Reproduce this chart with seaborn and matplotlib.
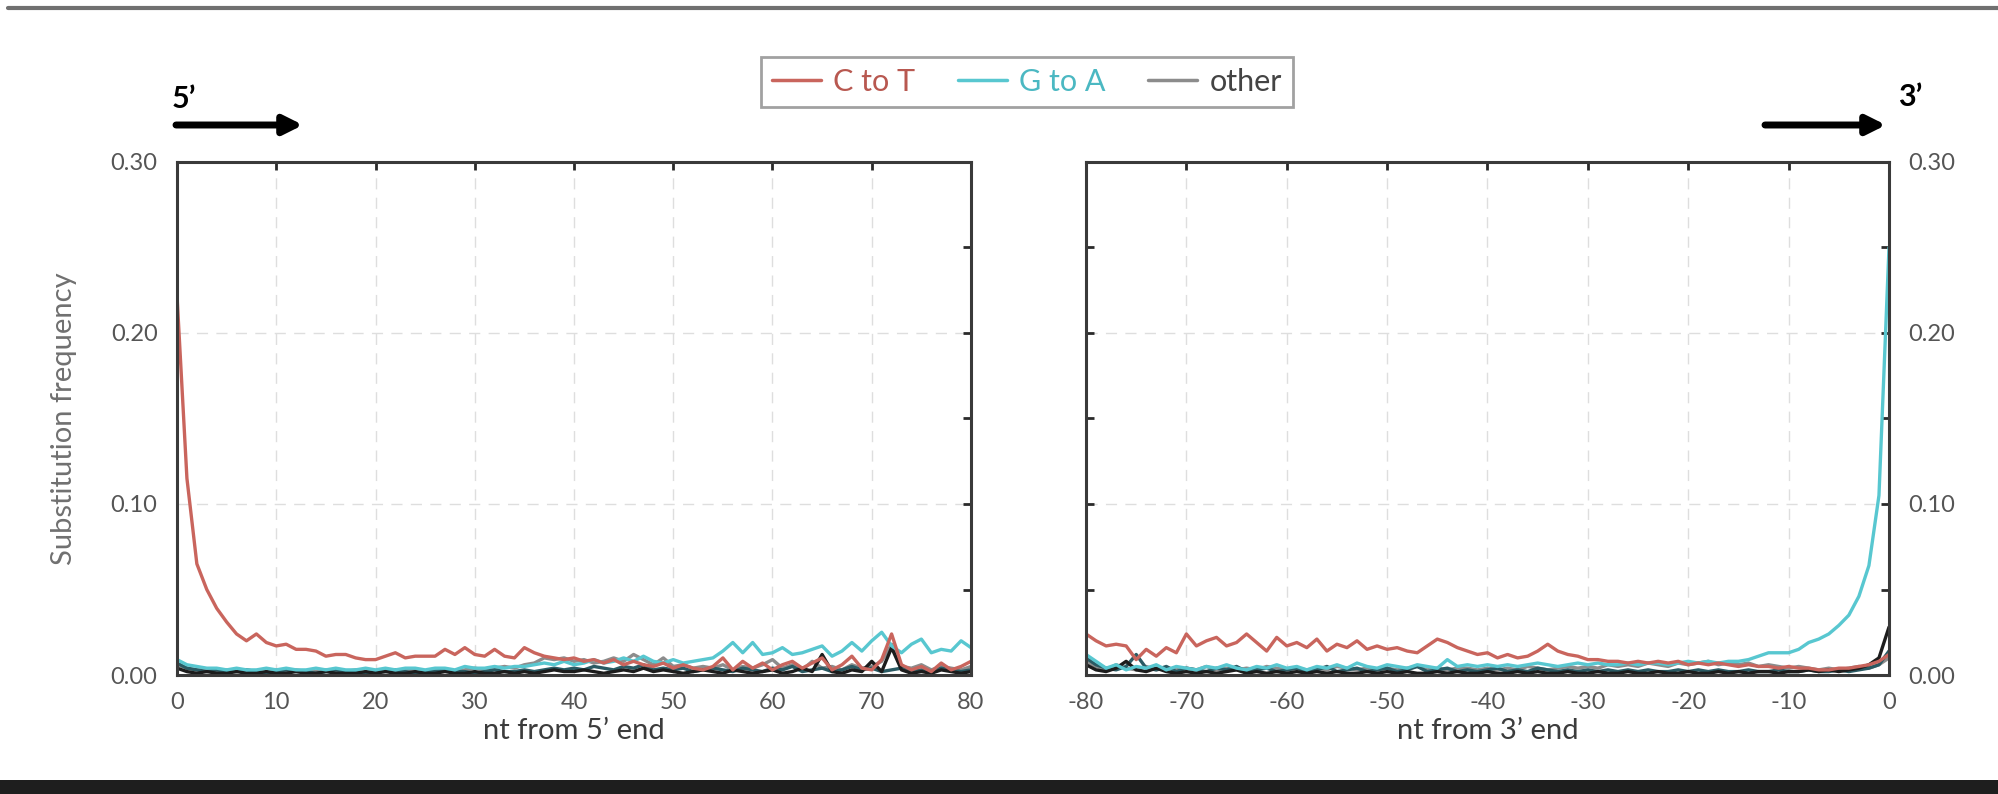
import numpy as np
import pandas as pd
import matplotlib
matplotlib.use('Agg')
import matplotlib.pyplot as plt
import seaborn as sns
from matplotlib.lines import Line2D
from matplotlib.patches import Rectangle, FancyArrowPatch
from matplotlib.ticker import MultipleLocator, FormatStrFormatter

# positions
pos_5 = list(range(0, 81))
pos_3 = list(range(-80, 1))

# 5' end panel
c2t_5 = [0.222, 0.115, 0.065, 0.050, 0.039, 0.031, 0.024, 0.020, 0.024, 0.019,
         0.017, 0.018, 0.015, 0.015, 0.014, 0.011, 0.012, 0.012, 0.010, 0.009,
         0.009, 0.011, 0.013, 0.010, 0.011, 0.011, 0.011, 0.015, 0.012, 0.016,
         0.012, 0.011, 0.015, 0.011, 0.010, 0.016, 0.013, 0.011, 0.010, 0.009,
         0.010, 0.008, 0.009, 0.007, 0.009, 0.006, 0.008, 0.006, 0.005, 0.007,
         0.004, 0.006, 0.004, 0.003, 0.005, 0.010, 0.003, 0.008, 0.004, 0.007,
         0.003, 0.006, 0.008, 0.004, 0.007, 0.010, 0.003, 0.006, 0.011, 0.004,
         0.003, 0.009, 0.024, 0.006, 0.003, 0.005, 0.002, 0.007, 0.003, 0.005,
         0.008]
g2a_5 = [0.009, 0.006, 0.005, 0.004, 0.004, 0.003, 0.004, 0.003, 0.003, 0.004,
         0.003, 0.004, 0.003, 0.003, 0.004, 0.003, 0.004, 0.003, 0.003, 0.004,
         0.003, 0.004, 0.003, 0.004, 0.004, 0.003, 0.004, 0.004, 0.003, 0.005,
         0.004, 0.004, 0.005, 0.004, 0.005, 0.005, 0.006, 0.007, 0.006, 0.008,
         0.006, 0.007, 0.009, 0.007, 0.008, 0.010, 0.008, 0.011, 0.008, 0.007,
         0.009, 0.007, 0.008, 0.009, 0.010, 0.014, 0.019, 0.013, 0.019, 0.012,
         0.013, 0.016, 0.012, 0.013, 0.015, 0.017, 0.011, 0.014, 0.019, 0.014,
         0.020, 0.025, 0.017, 0.013, 0.018, 0.021, 0.013, 0.015, 0.014, 0.020,
         0.016]
grey_5 = [0.006, 0.004, 0.003, 0.003, 0.002, 0.003, 0.002, 0.003, 0.002, 0.002,
          0.003, 0.002, 0.003, 0.002, 0.002, 0.003, 0.002, 0.002, 0.003, 0.002,
          0.002, 0.003, 0.002, 0.003, 0.003, 0.002, 0.003, 0.003, 0.002, 0.003,
          0.004, 0.003, 0.004, 0.005, 0.004, 0.006, 0.007, 0.010, 0.009, 0.010,
          0.008, 0.009, 0.007, 0.008, 0.010, 0.008, 0.012, 0.009, 0.006, 0.010,
          0.005, 0.006, 0.004, 0.005, 0.004, 0.006, 0.003, 0.005, 0.004, 0.006,
          0.009, 0.004, 0.006, 0.003, 0.008, 0.004, 0.005, 0.003, 0.006, 0.004,
          0.005, 0.008, 0.018, 0.005, 0.004, 0.006, 0.003, 0.005, 0.004, 0.003,
          0.005]
teal_5 = [0.007, 0.004, 0.003, 0.002, 0.003, 0.002, 0.002, 0.003, 0.002, 0.001,
          0.002, 0.003, 0.002, 0.002, 0.001, 0.002, 0.003, 0.002, 0.002, 0.001,
          0.002, 0.002, 0.003, 0.002, 0.001, 0.002, 0.002, 0.003, 0.002, 0.002,
          0.001, 0.002, 0.003, 0.002, 0.002, 0.003, 0.002, 0.003, 0.004, 0.003,
          0.004, 0.003, 0.005, 0.004, 0.003, 0.005, 0.004, 0.006, 0.003, 0.004,
          0.003, 0.004, 0.002, 0.003, 0.004, 0.003, 0.002, 0.004, 0.003, 0.002,
          0.004, 0.003, 0.005, 0.002, 0.003, 0.004, 0.002, 0.003, 0.005, 0.003,
          0.004, 0.002, 0.003, 0.004, 0.002, 0.003, 0.002, 0.004, 0.003, 0.002,
          0.003]
dark_5 = [0.004, 0.002, 0.001, 0.002, 0.001, 0.001, 0.002, 0.001, 0.001, 0.002,
          0.001, 0.001, 0.002, 0.001, 0.001, 0.002, 0.001, 0.001, 0.001, 0.002,
          0.001, 0.002, 0.001, 0.001, 0.002, 0.001, 0.001, 0.002, 0.001, 0.001,
          0.002, 0.001, 0.001, 0.002, 0.001, 0.002, 0.001, 0.002, 0.003, 0.002,
          0.002, 0.003, 0.002, 0.001, 0.002, 0.003, 0.002, 0.004, 0.002, 0.003,
          0.002, 0.001, 0.002, 0.003, 0.002, 0.001, 0.003, 0.002, 0.001, 0.002,
          0.003, 0.001, 0.002, 0.004, 0.002, 0.012, 0.002, 0.001, 0.003, 0.002,
          0.008, 0.002, 0.016, 0.003, 0.001, 0.002, 0.001, 0.003, 0.002, 0.001,
          0.002]

# 3' end panel
c2t_3 = [0.024, 0.020, 0.017, 0.018, 0.017, 0.009, 0.015, 0.011, 0.016, 0.013,
         0.024, 0.017, 0.020, 0.022, 0.017, 0.019, 0.024, 0.019, 0.014, 0.022,
         0.017, 0.019, 0.016, 0.021, 0.014, 0.018, 0.016, 0.020, 0.015, 0.017,
         0.015, 0.016, 0.014, 0.013, 0.017, 0.021, 0.019, 0.016, 0.014, 0.012,
         0.013, 0.010, 0.012, 0.010, 0.011, 0.014, 0.018, 0.014, 0.012, 0.011,
         0.009, 0.009, 0.008, 0.008, 0.007, 0.008, 0.007, 0.008, 0.007, 0.008,
         0.006, 0.007, 0.006, 0.007, 0.006, 0.005, 0.006, 0.005, 0.005, 0.004,
         0.005, 0.004, 0.004, 0.003, 0.003, 0.004, 0.004, 0.005, 0.006, 0.008,
         0.012]
g2a_3 = [0.012, 0.008, 0.004, 0.006, 0.003, 0.005, 0.004, 0.006, 0.003, 0.005,
         0.004, 0.003, 0.005, 0.004, 0.006, 0.004, 0.003, 0.005, 0.004, 0.006,
         0.004, 0.005, 0.003, 0.005, 0.004, 0.006, 0.004, 0.007, 0.005, 0.004,
         0.006, 0.005, 0.004, 0.006, 0.005, 0.004, 0.009, 0.005, 0.006, 0.005,
         0.006, 0.005, 0.006, 0.005, 0.006, 0.007, 0.006, 0.005, 0.006, 0.007,
         0.006, 0.007, 0.006, 0.006, 0.007, 0.006, 0.007, 0.007, 0.006, 0.007,
         0.008, 0.007, 0.008, 0.007, 0.008, 0.008, 0.009, 0.011, 0.013, 0.013,
         0.013, 0.015, 0.019, 0.021, 0.024, 0.029, 0.035, 0.046, 0.064, 0.105,
         0.250]
grey_3 = [0.008, 0.005, 0.003, 0.006, 0.004, 0.003, 0.005, 0.003, 0.004, 0.003,
          0.004, 0.003, 0.005, 0.003, 0.004, 0.003, 0.004, 0.003, 0.005, 0.004,
          0.003, 0.004, 0.003, 0.004, 0.003, 0.005, 0.004, 0.003, 0.004, 0.003,
          0.004, 0.003, 0.004, 0.005, 0.003, 0.004, 0.003, 0.004, 0.004, 0.003,
          0.004, 0.003, 0.004, 0.003, 0.005, 0.004, 0.003, 0.004, 0.005, 0.004,
          0.005, 0.004, 0.006, 0.005, 0.006, 0.005, 0.007, 0.006, 0.005, 0.007,
          0.006, 0.007, 0.008, 0.006, 0.007, 0.006, 0.007, 0.005, 0.006, 0.005,
          0.004, 0.005, 0.004, 0.003, 0.004, 0.003, 0.004, 0.005, 0.004, 0.006,
          0.010]
teal_3 = [0.010, 0.006, 0.004, 0.003, 0.005, 0.012, 0.004, 0.003, 0.005, 0.002,
          0.004, 0.003, 0.002, 0.004, 0.003, 0.005, 0.002, 0.003, 0.004, 0.002,
          0.003, 0.004, 0.002, 0.003, 0.005, 0.002, 0.003, 0.004, 0.002, 0.003,
          0.004, 0.002, 0.003, 0.005, 0.002, 0.003, 0.004, 0.002, 0.003, 0.002,
          0.003, 0.004, 0.002, 0.003, 0.002, 0.004, 0.003, 0.002, 0.003, 0.002,
          0.003, 0.002, 0.003, 0.002, 0.003, 0.002, 0.003, 0.002, 0.002, 0.003,
          0.002, 0.003, 0.002, 0.003, 0.002, 0.002, 0.003, 0.002, 0.002, 0.003,
          0.002, 0.002, 0.003, 0.002, 0.002, 0.003, 0.002, 0.003, 0.004, 0.006,
          0.014]
dark_3 = [0.006, 0.003, 0.002, 0.004, 0.008, 0.003, 0.002, 0.004, 0.002, 0.001,
          0.002, 0.001, 0.002, 0.001, 0.002, 0.003, 0.001, 0.002, 0.001, 0.002,
          0.001, 0.002, 0.001, 0.002, 0.001, 0.002, 0.001, 0.001, 0.002, 0.001,
          0.002, 0.001, 0.002, 0.001, 0.001, 0.002, 0.001, 0.002, 0.001, 0.001,
          0.002, 0.001, 0.001, 0.002, 0.001, 0.002, 0.001, 0.001, 0.002, 0.001,
          0.001, 0.002, 0.001, 0.001, 0.002, 0.001, 0.001, 0.002, 0.001, 0.001,
          0.002, 0.001, 0.001, 0.002, 0.001, 0.002, 0.001, 0.002, 0.002, 0.001,
          0.002, 0.002, 0.003, 0.002, 0.003, 0.002, 0.003, 0.004, 0.006, 0.010,
          0.028]

series_order = ['other grey', 'other teal', 'other dark', 'G to A', 'C to T']
palette = {'C to T': '#c9655d', 'G to A': '#58c7d0',
           'other grey': '#8c8c8c', 'other teal': '#2a5a63', 'other dark': '#1c1c1c'}

df5 = pd.DataFrame({'pos': pos_5, 'C to T': c2t_5, 'G to A': g2a_5,
                    'other grey': grey_5, 'other teal': teal_5, 'other dark': dark_5})
df3 = pd.DataFrame({'pos': pos_3, 'C to T': c2t_3, 'G to A': g2a_3,
                    'other grey': grey_3, 'other teal': teal_3, 'other dark': dark_3})
long5 = df5.melt(id_vars='pos', var_name='series', value_name='freq')
long3 = df3.melt(id_vars='pos', var_name='series', value_name='freq')

sns.set_style('white')
plt.rcParams['font.family'] = ['Lato', 'DejaVu Sans']
plt.rcParams['axes.unicode_minus'] = False

W, H = 1999, 794
fig = plt.figure(figsize=(W / 100, H / 100), dpi=100)

def fx(px):
    return px / W

def fy(py):
    return 1 - py / H

top, bot = 162, 675
ax1 = fig.add_axes([fx(177), fy(bot), fx(971 - 177), (bot - top) / H])
ax2 = fig.add_axes([fx(1086), fy(bot), fx(1889 - 1086), (bot - top) / H])

for ax, data in [(ax1, long5), (ax2, long3)]:
    sns.lineplot(data=data, x='pos', y='freq', hue='series', hue_order=series_order,
                 palette=palette, lw=2.4, legend=False, ax=ax)
    ax.set_ylim(0, 0.30)
    ax.yaxis.set_major_locator(MultipleLocator(0.10))
    ax.yaxis.set_minor_locator(MultipleLocator(0.05))
    ax.yaxis.set_major_formatter(FormatStrFormatter('%.2f'))
    ax.xaxis.set_major_locator(MultipleLocator(10))
    ax.grid(True, which='major', color='#dedede', lw=1.0, linestyle=(0, (8, 6)))
    for sp in ax.spines.values():
        sp.set_color('#3a3a3a')
        sp.set_linewidth(2.2)
        sp.set_visible(True)
    ax.tick_params(which='both', direction='in', color='#2a2a2a', width=2,
                   labelsize=17, labelcolor='#555555', top=True, right=True)
    ax.tick_params(which='major', length=6)
    ax.tick_params(which='minor', length=6)
    ax.tick_params(axis='x', pad=12)
    ax.set_facecolor('white')

ax1.set_xlim(0, 80)
ax2.set_xlim(-80, 0)
ax1.tick_params(axis='y', pad=14)
ax2.yaxis.tick_right()
ax2.tick_params(axis='y', which='both', left=True, right=True, labelleft=False,
                labelright=True, pad=14)

ax1.set_xlabel('nt from 5\u2019 end', fontsize=21, color='#3c3c3c', labelpad=4)
ax2.set_xlabel('nt from 3\u2019 end', fontsize=21, color='#3c3c3c', labelpad=4)
ax1.set_ylabel('Substitution frequency', fontsize=21, color='#707070', labelpad=24)
ax2.set_ylabel('')

# legend
handles = [Line2D([], [], color=palette['C to T'], lw=2.5),
           Line2D([], [], color=palette['G to A'], lw=2.5),
           Line2D([], [], color='#8c8c8c', lw=2.5)]
leg = fig.legend(handles, ['C to T', 'G to A', 'other'], loc='center',
                 bbox_to_anchor=(fx(1027), fy(82)), ncol=3, fontsize=22,
                 frameon=True, fancybox=False, edgecolor='#8a8a8a',
                 handlelength=1.6, handletextpad=0.4, columnspacing=1.4,
                 borderpad=0.35)
leg.get_frame().set_linewidth(2)
for txt, col in zip(leg.get_texts(), ['#b85850', '#4bb8c2', '#444444']):
    txt.set_color(col)

# 5' / 3' arrows
fig.text(fx(172), fy(108), '5\u2019', fontsize=22, fontweight='bold', color='black')
fig.text(fx(1898), fy(106), '3\u2019', fontsize=22, fontweight='bold', color='black')
arrow = dict(arrowstyle='-|>', color='black', lw=5, mutation_scale=28, shrinkA=0, shrinkB=0)
fig.add_artist(FancyArrowPatch((fx(176), fy(125)), (fx(303), fy(125)),
               transform=fig.transFigure, **arrow))
fig.add_artist(FancyArrowPatch((fx(1765), fy(125)), (fx(1886), fy(125)),
               transform=fig.transFigure, **arrow))

# screenshot frame bits
fig.add_artist(Line2D([fx(8), 1], [fy(8), fy(8)], transform=fig.transFigure,
                      color='#707070', lw=3))
fig.add_artist(Rectangle((0, 0), 1, 14 / H, transform=fig.transFigure,
                         facecolor='#1e1e1e', edgecolor='none'))

fig.savefig('out.png', dpi=100, facecolor='white')
